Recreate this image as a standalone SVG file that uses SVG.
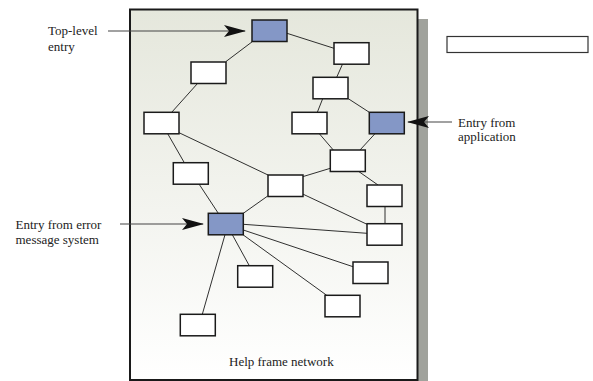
<svg xmlns="http://www.w3.org/2000/svg" width="593" height="381" viewBox="0 0 593 381">
<style>
.n{fill:#fff;stroke:#1a1a1a;stroke-width:1.5}
.b{fill:#8497c6;stroke:#1a1a1a;stroke-width:1.5}
.c{stroke:#1a1a1a;stroke-width:0.9;fill:none}
.a{stroke:#444;stroke-width:1.1;fill:none}
text{font-family:"Liberation Serif","Times New Roman",serif;font-size:13px;fill:#222}
</style>
<defs>
<linearGradient id="bg" x1="0" y1="0" x2="0" y2="1">
<stop offset="0" stop-color="#e5e7dc"/>
<stop offset="1" stop-color="#ffffff"/>
</linearGradient>
<marker id="ah" viewBox="0 0 22 12" refX="21" refY="6" markerWidth="22" markerHeight="12" markerUnits="userSpaceOnUse" orient="auto">
<path d="M0,0 L22,6 L0,12 L5,6 Z" fill="#111"/>
</marker>
</defs>
<g id="frame">
<rect x="418" y="19" width="10" height="362" fill="#a0a29c"/>
<rect x="130" y="9.5" width="287.5" height="370.5" fill="url(#bg)" stroke="#1a1a1a" stroke-width="2"/>
<text x="229" y="365.5">Help frame network</text>
</g>
<rect id="legend" x="447" y="36.5" width="141" height="16" fill="#fff" stroke="#333" stroke-width="1.2"/>
<g id="connectors">
<line class="c" x1="252.5" y1="41.5" x2="226" y2="61.5"/>
<line class="c" x1="287" y1="33.3" x2="334" y2="48.3"/>
<line class="c" x1="197.7" y1="83.3" x2="171.7" y2="112.3"/>
<line class="c" x1="167.7" y1="133.7" x2="184.3" y2="162.7"/>
<line class="c" x1="179" y1="132.7" x2="268" y2="175"/>
<line class="c" x1="342.7" y1="63.7" x2="336.7" y2="77.3"/>
<line class="c" x1="322.7" y1="98.7" x2="317.3" y2="112.3"/>
<line class="c" x1="348.3" y1="98.7" x2="369.3" y2="112.3"/>
<line class="c" x1="319.3" y1="133.7" x2="333.3" y2="150"/>
<line class="c" x1="375" y1="133.7" x2="360" y2="150"/>
<line class="c" x1="302.7" y1="176.7" x2="330.3" y2="168.3"/>
<line class="c" x1="359" y1="171.7" x2="378" y2="185"/>
<line class="c" x1="385" y1="206" x2="385" y2="224"/>
<line class="c" x1="199" y1="184" x2="218.3" y2="213.3"/>
<line class="c" x1="267.7" y1="196" x2="243.3" y2="213.3"/>
<line class="c" x1="302.7" y1="194" x2="367" y2="224.3"/>
<line class="c" x1="243.3" y1="224.3" x2="367" y2="233.3"/>
<line class="c" x1="243.3" y1="230" x2="353" y2="266.7"/>
<line class="c" x1="243.3" y1="235" x2="326.7" y2="295.3"/>
<line class="c" x1="232.3" y1="234.7" x2="249.3" y2="265.7"/>
<line class="c" x1="225" y1="234.7" x2="202.3" y2="314.3"/>
<line class="a" x1="108" y1="31" x2="245" y2="31" marker-end="url(#ah)"/>
<line class="a" x1="452" y1="122" x2="408" y2="122" marker-end="url(#ah)"/>
<line class="a" x1="120" y1="224" x2="203" y2="224" marker-end="url(#ah)"/>
</g>
<g id="n-top"><rect class="b" x="252" y="20" width="35" height="21.5"/></g>
<g id="n-a"><rect class="n" x="191" y="62" width="35" height="21.5"/></g>
<g id="n-b"><rect class="n" x="144" y="112.3" width="35" height="21.5"/></g>
<g id="n-c"><rect class="n" x="173.3" y="162.7" width="35" height="21.5"/></g>
<g id="n-d"><rect class="n" x="268" y="175" width="35" height="21.5"/></g>
<g id="n-rt"><rect class="n" x="334" y="42.7" width="35" height="21.5"/></g>
<g id="n-r2"><rect class="n" x="313" y="77.3" width="35" height="21.5"/></g>
<g id="n-r3"><rect class="n" x="292" y="112.3" width="35" height="21.5"/></g>
<g id="n-app"><rect class="b" x="369.3" y="112.3" width="35" height="21.5"/></g>
<g id="n-r4"><rect class="n" x="330.3" y="150" width="35" height="21.5"/></g>
<g id="n-r5"><rect class="n" x="367" y="185" width="35" height="21.5"/></g>
<g id="n-r6"><rect class="n" x="367" y="223.7" width="35" height="21.5"/></g>
<g id="n-r7"><rect class="n" x="353" y="262" width="35" height="21.5"/></g>
<g id="n-r8"><rect class="n" x="325" y="295.3" width="35" height="21.5"/></g>
<g id="n-err"><rect class="b" x="208.3" y="213.3" width="35" height="21.5"/></g>
<g id="n-e1"><rect class="n" x="237.7" y="265.7" width="35" height="21.5"/></g>
<g id="n-e2"><rect class="n" x="180.3" y="314.3" width="35" height="21.5"/></g>
<g id="labels">
<text x="48" y="35">Top-level</text>
<text x="48" y="51">entry</text>
<text x="458" y="126.5">Entry from</text>
<text x="458" y="140.5">application</text>
<text x="15.5" y="228.5">Entry from error</text>
<text x="15.5" y="244">message system</text>
</g>
</svg>
